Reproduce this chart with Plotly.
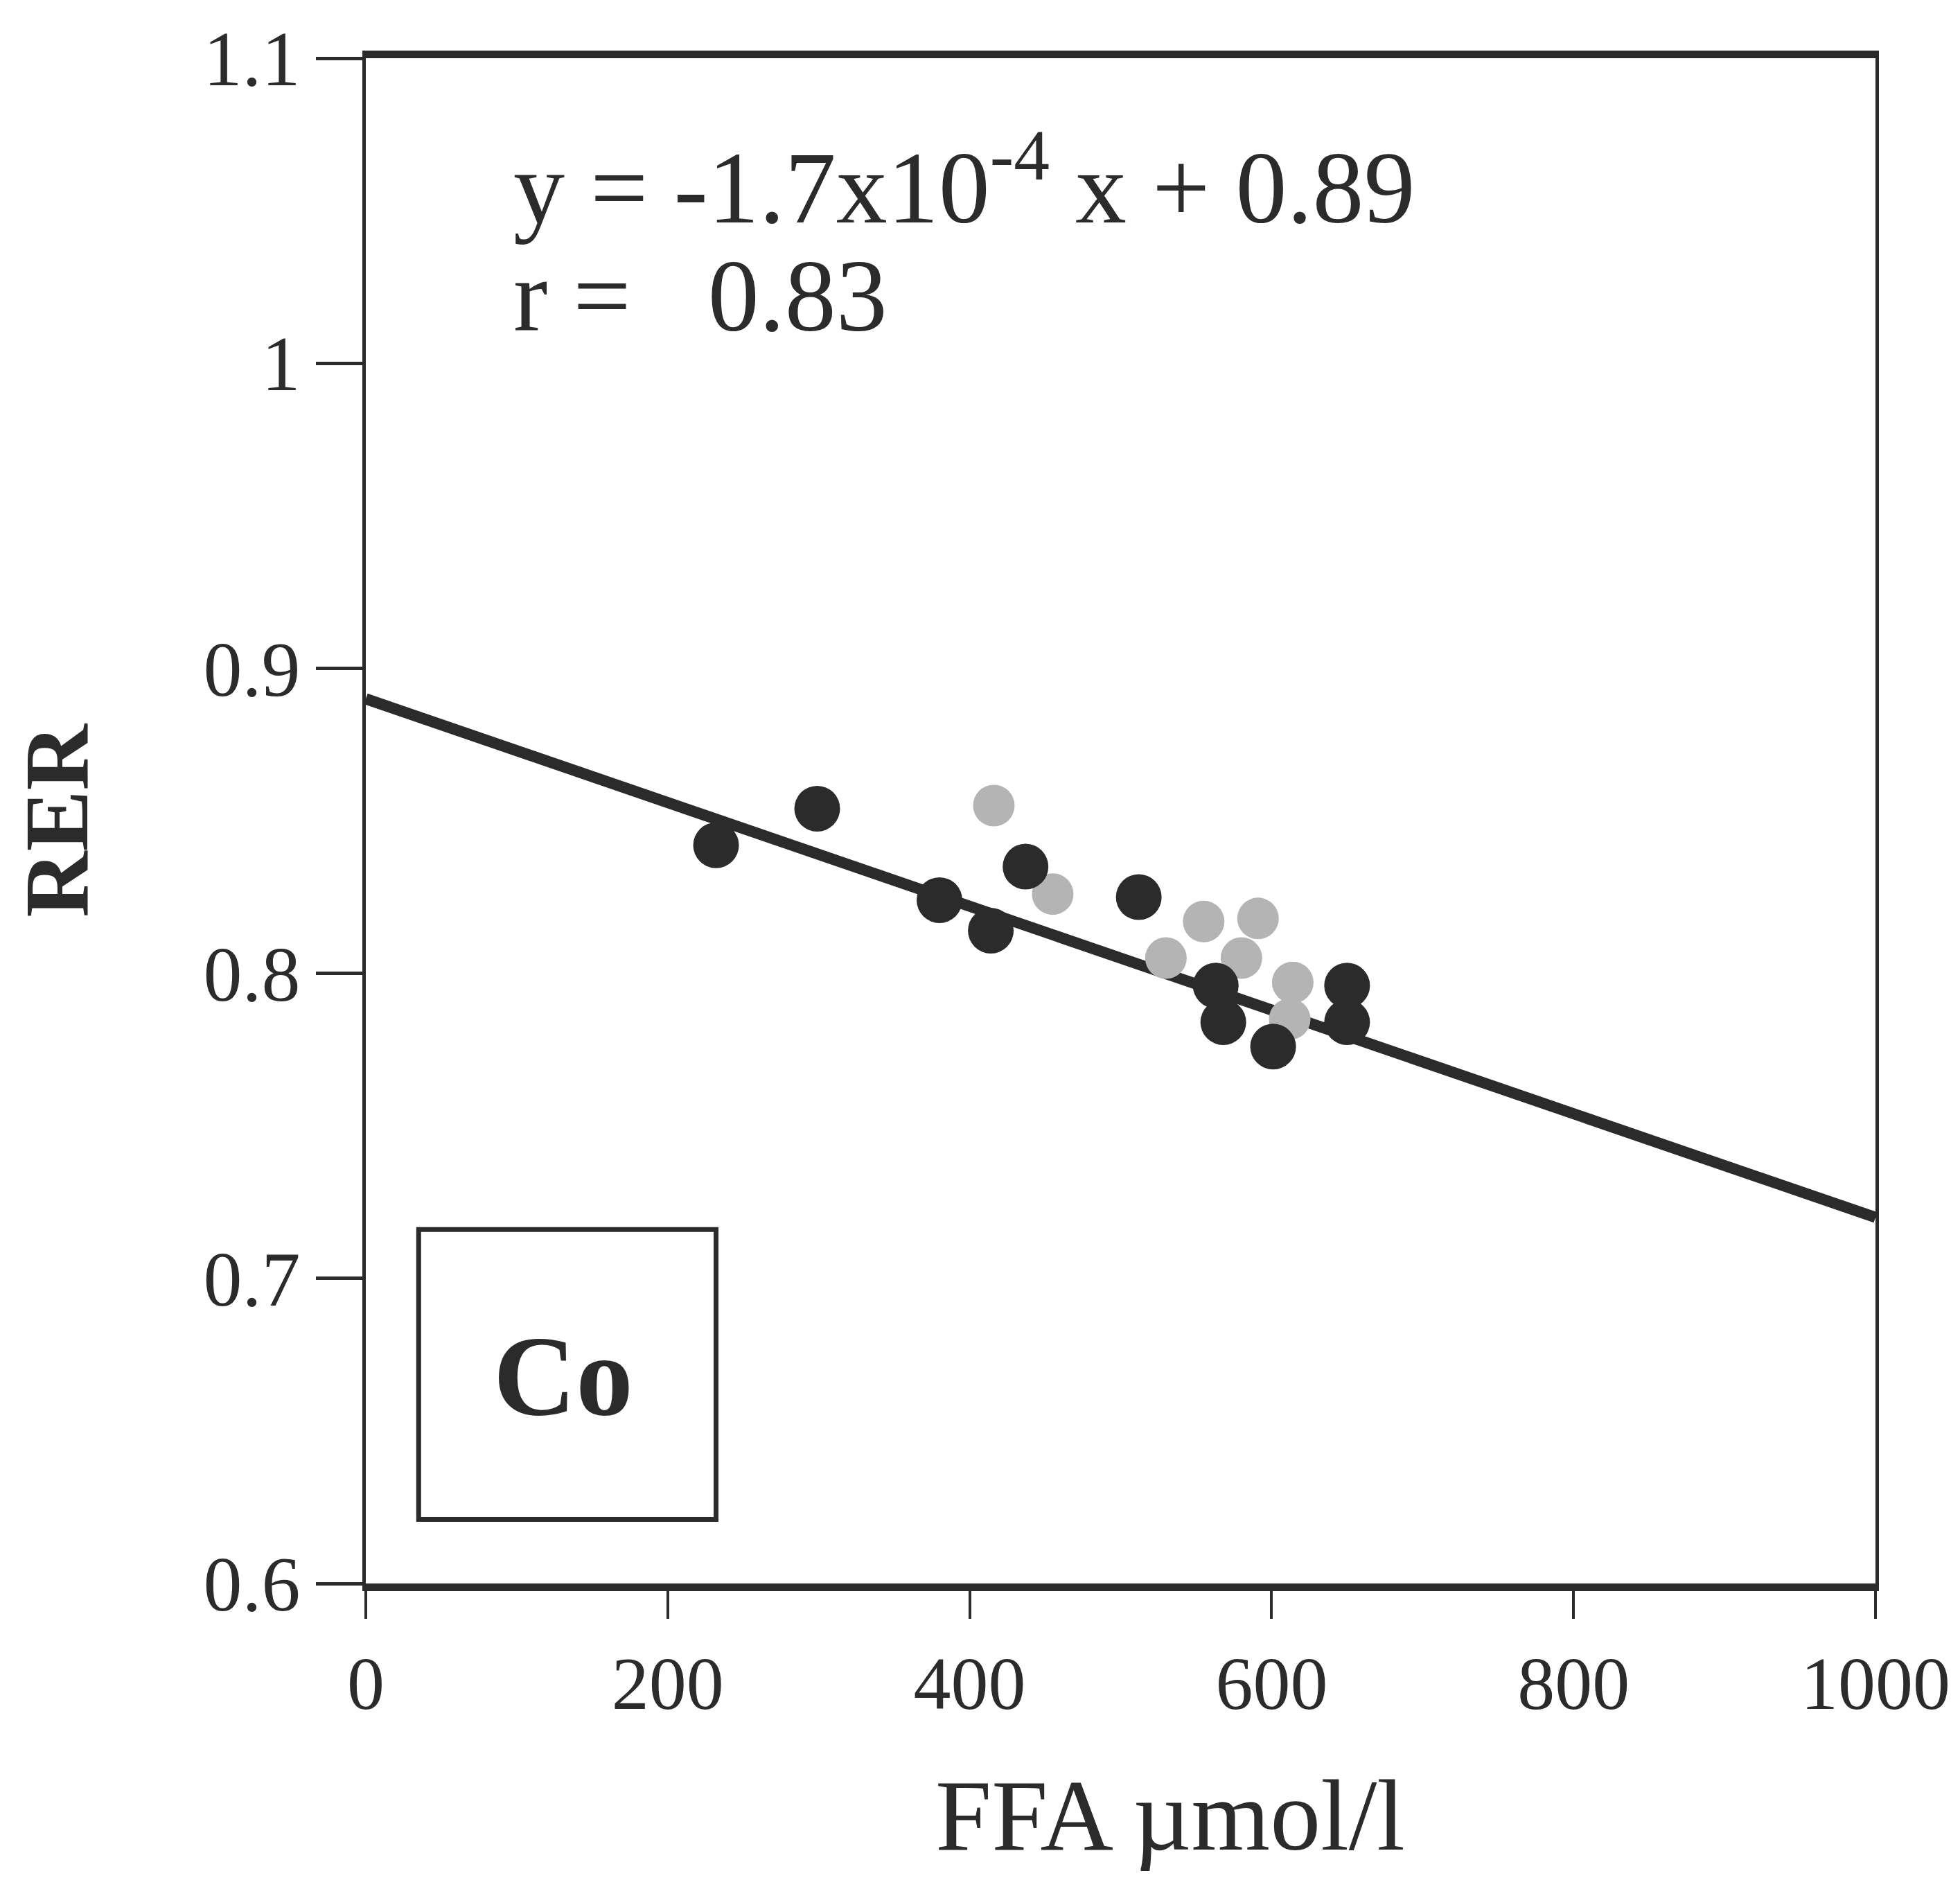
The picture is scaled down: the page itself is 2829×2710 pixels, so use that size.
import plotly.graph_objects as go

# Data
dark_ffa = [232, 299, 380, 414, 437, 512, 563, 568, 601, 650, 650]
dark_rer = [0.842, 0.854, 0.824, 0.814, 0.835, 0.825, 0.796, 0.784, 0.776, 0.796, 0.784]

hatch_ffa = [416, 455, 530, 555, 591, 580, 614, 612]
hatch_rer = [0.855, 0.826, 0.805, 0.817, 0.818, 0.805, 0.797, 0.785]

fit_slope = -1.7e-4
fit_intercept = 0.89
fit_x = [0, 1000]

x_ticks = [0, 200, 400, 600, 800, 1000]
y_ticks = [0.6, 0.7, 0.8, 0.9, 1.0, 1.1]
y_tick_labels = ["0.6", "0.7", "0.8", "0.9", "1", "1.1"]

FONT = "Liberation Serif"
INK = "#2b2b2b"

fig = go.Figure()

fig.add_trace(go.Scatter(
    x=fit_x, y=[fit_slope * v + fit_intercept for v in fit_x],
    mode="lines", line=dict(color=INK, width=16), showlegend=False, hoverinfo="skip"))

fig.add_trace(go.Scatter(
    x=hatch_ffa, y=hatch_rer, mode="markers",
    marker=dict(size=60, color="#b4b4b4", symbol="circle",
                line=dict(width=0)),
    showlegend=False))

fig.add_trace(go.Scatter(
    x=dark_ffa, y=dark_rer, mode="markers",
    marker=dict(size=66, color=INK, line=dict(width=0)),
    showlegend=False))

fig.update_layout(
    width=2829, height=2710,
    margin=dict(l=520, r=130, t=76, b=433),
    plot_bgcolor="white", paper_bgcolor="white",
    font=dict(family=FONT, color=INK),
    xaxis=dict(
        range=[0, 1000], tickvals=x_ticks, ticktext=[str(v) for v in x_ticks],
        showgrid=False, zeroline=False,
        showline=True, linecolor=INK, linewidth=11, mirror=True,
        ticks="outside", ticklen=40, tickwidth=4, tickcolor=INK,
        tickfont=dict(family=FONT, size=108, color=INK),
    ),
    yaxis=dict(
        range=[0.6, 1.1], tickvals=y_ticks, ticktext=y_tick_labels,
        showgrid=False, zeroline=False,
        showline=True, linecolor=INK, linewidth=5, mirror=True,
        ticks="outside", ticklen=67, tickwidth=5, tickcolor=INK,
        tickfont=dict(family=FONT, size=112, color=INK),
        title=dict(text="<b>RER</b>", font=dict(family=FONT, size=132, color=INK), standoff=135),
    ),
    annotations=[
        dict(x=0.533, y=-0.152, xref="paper", yref="paper", xanchor="center", yanchor="middle",
             text="FFA µmol/l", showarrow=False,
             font=dict(family=FONT, size=146, color=INK)),
        dict(x=97, y=1.06, xref="x", yref="y", xanchor="left", yanchor="middle",
             text="y = -1.7x10<sup>-4</sup> x + 0.89", showarrow=False,
             font=dict(family=FONT, size=148, color=INK)),
        dict(x=97, y=1.022, xref="x", yref="y", xanchor="left", yanchor="middle",
             text="r =   0.83", showarrow=False,
             font=dict(family=FONT, size=148, color=INK)),
        dict(x=131, y=0.668, xref="x", yref="y", xanchor="center", yanchor="middle",
             text="<b>Co</b>", showarrow=False,
             font=dict(family=FONT, size=165, color=INK)),
    ],
    shapes=[
        dict(type="rect", xref="x", yref="y", x0=35, x1=232, y0=0.621, y1=0.716,
             line=dict(color=INK, width=7), fillcolor="rgba(0,0,0,0)"),
    ],
)

fig.write_html("out.html")
